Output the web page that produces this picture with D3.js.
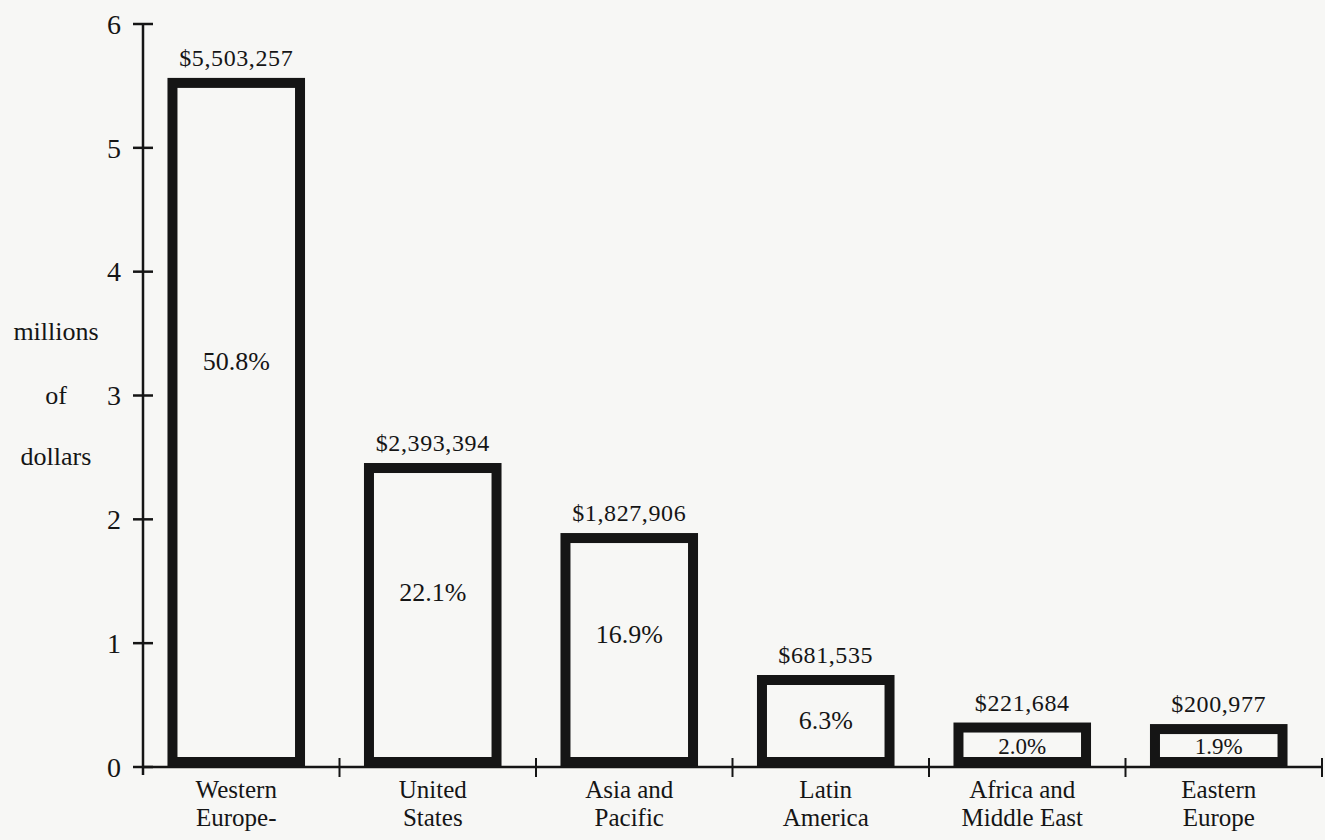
<!DOCTYPE html>
<html>
<head>
<meta charset="utf-8">
<script src="https://cdn.jsdelivr.net/npm/d3@7"></script>
<style>
  body { margin: 0; background: #f7f7f5; }
  svg { display: block; }
</style>
</head>
<body>
<div id="chart"></div>
<script>
// data
const regions = [["Western", "Europe-"], ["United", "States"], ["Asia and", "Pacific"],
                 ["Latin", "America"], ["Africa and", "Middle East"], ["Eastern", "Europe"]];
const sales = [5503257, 2393394, 1827906, 681535, 221684, 200977];
const shares = ["50.8%", "22.1%", "16.9%", "6.3%", "2.0%", "1.9%"];
const yTicks = [0, 1, 2, 3, 4, 5, 6];
const yTitle = ["millions", "of", "dollars"];

const W = 1325, H = 840;
const X0 = 143, X1 = 1322, Y0 = 767, Y1 = 24;
const STROKE = 10;
const FONT = "'Liberation Serif', 'Times New Roman', serif";
const INK = "#151515";

const svg = d3.select("#chart").append("svg")
    .attr("width", W).attr("height", H)
    .style("font-family", FONT);

svg.append("rect").attr("width", W).attr("height", H).attr("fill", "#f7f7f5");

const x = d3.scaleBand()
    .domain(d3.range(sales.length))
    .range([X0, X1])
    .paddingInner(0.3)
    .paddingOuter(0.15);

const y = d3.scaleLinear().domain([0, 6]).range([Y0, Y1]);

const band = (X1 - X0) / sales.length;

//bars - thick outline; the tiny ones are drawn a bit taller like the original
const bars = svg.append("g");
sales.forEach((v, i) => {
    const bx = x(i) - 5 + STROKE / 2;
    const bw = x.bandwidth() - STROKE;
    const hv = Y0 - y(v / 1e6);
    const outerH = Math.max(hv + 7.6, 28 + hv * 0.6);
    const outerTop = Y0 - outerH;
    bars.append("rect")
        .attr("x", bx).attr("y", outerTop + STROKE / 2)
        .attr("width", bw).attr("height", outerH - STROKE)
        .attr("fill", "none")
        .attr("stroke", INK)
        .attr("stroke-width", STROKE);

    const cx = x(i) - 5 + x.bandwidth() / 2;
    bars.append("text")
        .attr("x", cx).attr("y", outerTop - 12)
        .attr("text-anchor", "middle")
        .attr("font-size", 24)
        .attr("letter-spacing", 0.6)
        .attr("fill", INK)
        .text(d3.format("$,")(v));

    //share label sits a little above the middle; in the flat boxes it is centred inside
    const innerMid = outerTop + outerH / 2;
    const py = outerH > 60 ? outerTop + outerH * 0.4 + 8 : innerMid + 1;
    bars.append("text")
        .attr("x", cx).attr("y", py)
        .attr("dy", "0.34em")
        .attr("text-anchor", "middle")
        .attr("font-size", outerH > 60 ? 26 : 23)
        .attr("fill", INK)
        .text(shares[i]);

    regions[i].forEach((t, k) => {
        svg.append("text")
            .attr("x", cx).attr("y", 798 + k * 28)
            .attr("text-anchor", "middle")
            .attr("font-size", 25)
            .attr("fill", INK)
            .text(t);
    });
});

//y axis
const yAxis = svg.append("g");
yAxis.append("line")
    .attr("x1", X0).attr("x2", X0).attr("y1", Y1).attr("y2", Y0 + 8)
    .attr("stroke", INK).attr("stroke-width", 2.5);
yTicks.forEach(t => {
    yAxis.append("line")
        .attr("x1", X0 - 10).attr("x2", X0 + 10)
        .attr("y1", y(t)).attr("y2", y(t))
        .attr("stroke", INK).attr("stroke-width", 2.5);
    yAxis.append("text")
        .attr("x", X0 - 22).attr("y", y(t))
        .attr("dy", "0.35em")
        .attr("text-anchor", "end")
        .attr("font-size", 28)
        .attr("fill", INK)
        .text(t);
});

//x axis
const xAxis = svg.append("g");
xAxis.append("line")
    .attr("x1", X0).attr("x2", X1).attr("y1", Y0).attr("y2", Y0)
    .attr("stroke", INK).attr("stroke-width", 2.5);
d3.range(1, sales.length + 1).forEach(i => {
    const tx = X0 + i * band;
    xAxis.append("line")
        .attr("x1", tx).attr("x2", tx).attr("y1", Y0 - 9).attr("y2", Y0 + 10)
        .attr("stroke", INK).attr("stroke-width", 2);
});

//axis title
yTitle.forEach((t, k) => {
    svg.append("text")
        .attr("x", 56).attr("y", [331, 395, 456][k])
        .attr("dy", "0.35em")
        .attr("text-anchor", "middle")
        .attr("font-size", 26)
        .attr("fill", INK)
        .text(t);
});
</script>
</body>
</html>
